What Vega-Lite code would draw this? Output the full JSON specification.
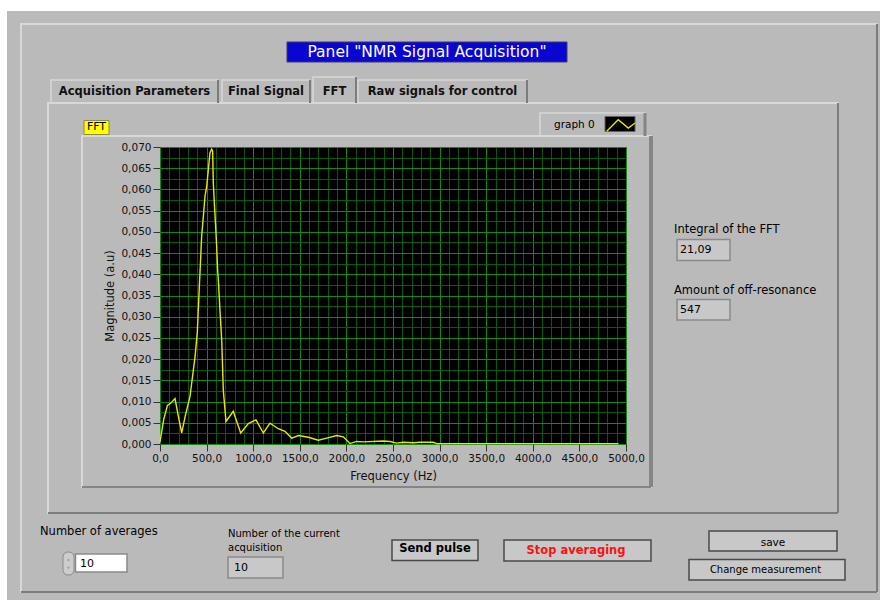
{
  "$schema": "https://vega.github.io/schema/vega-lite/v6.json",
  "width": 466,
  "height": 297,
  "autosize": {"type": "none"},
  "padding": {"left": 160, "top": 147, "right": 254, "bottom": 156},
  "background": "#bababa",
  "view": {"fill": "#000000", "stroke": "#4a4a4a"},
  "config": {"font": "DejaVu Sans", "text": {"baseline": "middle", "align": "left", "color": "#000000", "fontSize": 11.5}},
  "resolve": {"axis": {"x": "independent", "y": "independent"}},
  "layer": [
    {"data": {"values": [{"item": "top margin"}]}, "mark": {"type": "rect", "fill": "#ffffff"},
     "encoding": {"x": {"datum": -2000, "axis": null}, "x2": {"datum": 8000}, "y": {"datum": 0.106, "axis": null}, "y2": {"datum": 0.102054}}},
    {"data": {"values": [{"item": "left margin"}]}, "mark": {"type": "rect", "fill": "#ffffff"},
     "encoding": {"x": {"datum": -2000, "axis": null}, "x2": {"datum": -1641.6}, "y": {"datum": 0.106, "axis": null}, "y2": {"datum": -0.04}}},

    {"data": {"values": [{"item": "outer frame"}]}, "mark": {"type": "rect", "filled": false, "stroke": "#d8d8d8", "strokeWidth": 2},
     "encoding": {"x": {"datum": -1491.4, "axis": null}, "x2": {"datum": 7693.1}, "y": {"datum": 0.09899, "axis": null}, "y2": {"datum": -0.034882}}},
    {"data": {"values": [{"item": "outer frame right"}]}, "mark": {"type": "rule", "stroke": "#7c7c7c", "strokeWidth": 2},
     "encoding": {"x": {"datum": 7693.1, "axis": null}, "y": {"datum": 0.09899, "axis": null}, "y2": {"datum": -0.034882}}},
    {"data": {"values": [{"item": "outer frame bottom"}]}, "mark": {"type": "rule", "stroke": "#7c7c7c", "strokeWidth": 2},
     "encoding": {"x": {"datum": -1491.4, "axis": null}, "x2": {"datum": 7693.1}, "y": {"datum": -0.034882, "axis": null}}},

    {"data": {"values": [{"item": "tab panel"}]}, "mark": {"type": "rect", "filled": false, "stroke": "#d8d8d8", "strokeWidth": 2},
     "encoding": {"x": {"datum": -1201.7, "axis": null}, "x2": {"datum": 7274.7}, "y": {"datum": 0.08037, "axis": null}, "y2": {"datum": -0.016263}}},
    {"data": {"values": [{"item": "tab panel right"}]}, "mark": {"type": "rule", "stroke": "#7c7c7c", "strokeWidth": 2},
     "encoding": {"x": {"datum": 7274.7, "axis": null}, "y": {"datum": 0.08037, "axis": null}, "y2": {"datum": -0.016263}}},
    {"data": {"values": [{"item": "tab panel bottom"}]}, "mark": {"type": "rule", "stroke": "#7c7c7c", "strokeWidth": 2},
     "encoding": {"x": {"datum": -1201.7, "axis": null}, "x2": {"datum": 7274.7}, "y": {"datum": -0.016263, "axis": null}}},

    {"data": {"values": [{"item": "tab 1"}]}, "mark": {"type": "rect", "filled": false, "stroke": "#d8d8d8", "strokeWidth": 1.5},
     "encoding": {"x": {"datum": -1169.5, "axis": null}, "x2": {"datum": 622.3}, "y": {"datum": 0.085791, "axis": null}, "y2": {"datum": 0.08037}}},
    {"data": {"values": [{"item": "tab 1 edge"}]}, "mark": {"type": "rule", "stroke": "#7c7c7c", "strokeWidth": 2},
     "encoding": {"x": {"datum": 622.3, "axis": null}, "y": {"datum": 0.085791, "axis": null}, "y2": {"datum": 0.08037}}},
    {"data": {"values": [{"item": "tab 2"}]}, "mark": {"type": "rect", "filled": false, "stroke": "#d8d8d8", "strokeWidth": 1.5},
     "encoding": {"x": {"datum": 665.2, "axis": null}, "x2": {"datum": 1609.4}, "y": {"datum": 0.085791, "axis": null}, "y2": {"datum": 0.08037}}},
    {"data": {"values": [{"item": "tab 2 edge"}]}, "mark": {"type": "rule", "stroke": "#7c7c7c", "strokeWidth": 2},
     "encoding": {"x": {"datum": 1609.4, "axis": null}, "y": {"datum": 0.085791, "axis": null}, "y2": {"datum": 0.08037}}},
    {"data": {"values": [{"item": "tab 3"}]}, "mark": {"type": "rect", "filled": false, "stroke": "#d8d8d8", "strokeWidth": 1.5},
     "encoding": {"x": {"datum": 1641.6, "axis": null}, "x2": {"datum": 2103.0}, "y": {"datum": 0.086498, "axis": null}, "y2": {"datum": 0.08037}}},
    {"data": {"values": [{"item": "tab 3 edge"}]}, "mark": {"type": "rule", "stroke": "#7c7c7c", "strokeWidth": 2},
     "encoding": {"x": {"datum": 2103.0, "axis": null}, "y": {"datum": 0.086498, "axis": null}, "y2": {"datum": 0.08037}}},
    {"data": {"values": [{"item": "tab 4"}]}, "mark": {"type": "rect", "filled": false, "stroke": "#d8d8d8", "strokeWidth": 1.5},
     "encoding": {"x": {"datum": 2124.5, "axis": null}, "x2": {"datum": 3937.8}, "y": {"datum": 0.085791, "axis": null}, "y2": {"datum": 0.08037}}},
    {"data": {"values": [{"item": "tab 4 edge"}]}, "mark": {"type": "rule", "stroke": "#7c7c7c", "strokeWidth": 2},
     "encoding": {"x": {"datum": 3937.8, "axis": null}, "y": {"datum": 0.085791, "axis": null}, "y2": {"datum": 0.08037}}},

    {"data": {"values": [{"label": "Acquisition Parameters"}]}, "mark": {"type": "text", "align": "center", "fontWeight": "bold", "fontSize": 11.5, "color": "#111111"},
     "encoding": {"x": {"datum": -273.6, "axis": null}, "y": {"datum": 0.082963, "axis": null}, "text": {"field": "label"}}},
    {"data": {"values": [{"label": "Final Signal"}]}, "mark": {"type": "text", "align": "center", "fontWeight": "bold", "fontSize": 11.5, "color": "#111111"},
     "encoding": {"x": {"datum": 1137.3, "axis": null}, "y": {"datum": 0.082963, "axis": null}, "text": {"field": "label"}}},
    {"data": {"values": [{"label": "FFT"}]}, "mark": {"type": "text", "align": "center", "fontWeight": "bold", "fontSize": 11.5, "color": "#111111"},
     "encoding": {"x": {"datum": 1872.3, "axis": null}, "y": {"datum": 0.082963, "axis": null}, "text": {"field": "label"}}},
    {"data": {"values": [{"label": "Raw signals for control"}]}, "mark": {"type": "text", "align": "center", "fontWeight": "bold", "fontSize": 11.5, "color": "#111111"},
     "encoding": {"x": {"datum": 3031.1, "axis": null}, "y": {"datum": 0.082963, "axis": null}, "text": {"field": "label"}}},

    {"data": {"values": [{"item": "title box"}]}, "mark": {"type": "rect", "fill": "#0a06d2", "stroke": "#3a3a6a", "strokeWidth": 1},
     "encoding": {"x": {"datum": 1362.7, "axis": null}, "x2": {"datum": 4366.9}, "y": {"datum": 0.094747, "axis": null}, "y2": {"datum": 0.090034}}},
    {"data": {"values": [{"label": "Panel \"NMR Signal Acquisition\""}]}, "mark": {"type": "text", "align": "center", "fontSize": 15.5, "color": "#ffffff"},
     "encoding": {"x": {"datum": 2864.8, "axis": null}, "y": {"datum": 0.092273, "axis": null}, "text": {"field": "label"}}},

    {"data": {"values": [{"item": "graph label box"}]}, "mark": {"type": "rect", "fill": "#ffff00", "stroke": "#8c8c40", "strokeWidth": 1},
     "encoding": {"x": {"datum": -815.4, "axis": null}, "x2": {"datum": -547.2}, "y": {"datum": 0.076246, "axis": null}, "y2": {"datum": 0.072946}}},
    {"data": {"values": [{"label": "FFT"}]}, "mark": {"type": "text", "align": "center", "fontSize": 11, "color": "#000000"},
     "encoding": {"x": {"datum": -681.3, "axis": null}, "y": {"datum": 0.074596, "axis": null}, "text": {"field": "label"}}},

    {"data": {"values": [{"item": "graph frame"}]}, "mark": {"type": "rect", "filled": false, "stroke": "#d8d8d8", "strokeWidth": 2},
     "encoding": {
       "x": {"datum": -836.9, "axis": {"orient": "bottom", "title": null, "labels": false, "ticks": false, "domain": false, "grid": true, "gridColor": "#0b5a0b", "gridWidth": 1, "gridOpacity": 1,
              "values": [100,200,300,400,600,700,800,900,1100,1200,1300,1400,1600,1700,1800,1900,2100,2200,2300,2400,2600,2700,2800,2900,3100,3200,3300,3400,3600,3700,3800,3900,4100,4200,4300,4400,4600,4700,4800,4900]}},
       "x2": {"datum": 5268.2},
       "y": {"datum": 0.072593, "axis": {"orient": "left", "title": null, "labels": false, "ticks": false, "domain": false, "grid": true, "gridColor": "#0b5a0b", "gridWidth": 1, "gridOpacity": 1,
              "values": [0.0025,0.0075,0.0125,0.0175,0.0225,0.0275,0.0325,0.0375,0.0425,0.0475,0.0525,0.0575,0.0625,0.0675]}},
       "y2": {"datum": -0.010135}}},
    {"data": {"values": [{"item": "graph frame right"}]}, "mark": {"type": "rule", "stroke": "#858585", "strokeWidth": 4},
     "encoding": {"x": {"datum": 5268.2, "axis": null}, "y": {"datum": 0.072593, "axis": null}, "y2": {"datum": -0.010135}}},
    {"data": {"values": [{"item": "graph frame bottom"}]}, "mark": {"type": "rule", "stroke": "#858585", "strokeWidth": 2},
     "encoding": {"x": {"datum": -836.9, "axis": null}, "x2": {"datum": 5268.2}, "y": {"datum": -0.010135, "axis": null}}},

    {"data": {"values": [{"item": "legend frame"}]}, "mark": {"type": "rect", "filled": false, "stroke": "#d8d8d8", "strokeWidth": 1.5},
     "encoding": {"x": {"datum": 4077.2, "axis": null}, "x2": {"datum": 5203.9}, "y": {"datum": 0.078013, "axis": null}, "y2": {"datum": 0.072593}}},
    {"data": {"values": [{"item": "legend frame right"}]}, "mark": {"type": "rule", "stroke": "#858585", "strokeWidth": 3},
     "encoding": {"x": {"datum": 5203.9, "axis": null}, "y": {"datum": 0.078013, "axis": null}, "y2": {"datum": 0.072593}}},
    {"data": {"values": [{"label": "graph 0"}]}, "mark": {"type": "text", "align": "left", "fontSize": 10.5, "color": "#000000"},
     "encoding": {"x": {"datum": 4227.5, "axis": null}, "y": {"datum": 0.075256, "axis": null}, "text": {"field": "label"}}},
    {"data": {"values": [{"item": "legend swatch"}]}, "mark": {"type": "rect", "fill": "#000000", "stroke": "#606060", "strokeWidth": 1},
     "encoding": {"x": {"datum": 4774.7, "axis": null}, "x2": {"datum": 5096.6}, "y": {"datum": 0.077188, "axis": null}, "y2": {"datum": 0.073653}}},
    {"data": {"values": [{"item": "legend line"}]}, "mark": {"type": "point", "shape": "M-0.99,0.41L-0.18,-0.41L0.53,0.18L1,-0.18", "filled": false, "stroke": "#e8e800", "strokeWidth": 1.3, "size": 806, "opacity": 1},
     "encoding": {"x": {"datum": 4944.2, "axis": null}, "y": {"datum": 0.075067, "axis": null}}},

    {"data": {"values": [
       {"f": 0, "m": 0.0005}, {"f": 40, "m": 0.0058}, {"f": 80, "m": 0.0091}, {"f": 120, "m": 0.0097}, {"f": 161, "m": 0.0107},
       {"f": 197, "m": 0.0065}, {"f": 233, "m": 0.0026}, {"f": 270, "m": 0.0065}, {"f": 322, "m": 0.0112}, {"f": 376, "m": 0.0206},
       {"f": 400, "m": 0.0262}, {"f": 422, "m": 0.037}, {"f": 447, "m": 0.049}, {"f": 465, "m": 0.0536}, {"f": 483, "m": 0.0585},
       {"f": 501, "m": 0.0607}, {"f": 518, "m": 0.0645}, {"f": 536, "m": 0.0686}, {"f": 554, "m": 0.0695}, {"f": 565, "m": 0.069},
       {"f": 572, "m": 0.0615}, {"f": 583, "m": 0.0568}, {"f": 597, "m": 0.0513}, {"f": 608, "m": 0.0466}, {"f": 618, "m": 0.041},
       {"f": 626, "m": 0.0387}, {"f": 644, "m": 0.0313}, {"f": 662, "m": 0.0246}, {"f": 679, "m": 0.0128}, {"f": 708, "m": 0.0053},
       {"f": 786, "m": 0.0077}, {"f": 866, "m": 0.0026}, {"f": 948, "m": 0.0048}, {"f": 1030, "m": 0.0057}, {"f": 1109, "m": 0.0026},
       {"f": 1180, "m": 0.0049}, {"f": 1270, "m": 0.0036}, {"f": 1341, "m": 0.003}, {"f": 1413, "m": 0.0014}, {"f": 1485, "m": 0.002},
       {"f": 1592, "m": 0.0016}, {"f": 1699, "m": 0.0009}, {"f": 1789, "m": 0.0014}, {"f": 1896, "m": 0.002}, {"f": 1967, "m": 0.0017},
       {"f": 2039, "m": 0.0001}, {"f": 2110, "m": 0.0006}, {"f": 2182, "m": 0.0005}, {"f": 2396, "m": 0.0007}, {"f": 2468, "m": 0.0006},
       {"f": 2540, "m": 0.0002}, {"f": 2611, "m": 0.0004}, {"f": 2718, "m": 0.0003}, {"f": 2790, "m": 0.0004}, {"f": 2933, "m": 0.0004},
       {"f": 2969, "m": 0.0001}, {"f": 3200, "m": 0.0001}, {"f": 3500, "m": 0.0001}, {"f": 4000, "m": 0.0001}, {"f": 4500, "m": 0.0001},
       {"f": 4920, "m": 0.0001}
     ]},
     "mark": {"type": "line", "color": "#e8e800", "strokeWidth": 1.4},
     "encoding": {
       "x": {"field": "f", "type": "quantitative",
             "scale": {"domain": [0, 5000], "nice": false, "zero": false},
             "axis": {"orient": "bottom", "title": "Frequency (Hz)", "values": [0,500,1000,1500,2000,2500,3000,3500,4000,4500,5000],
                      "labelExpr": "replace(format(datum.value, '.1f'), '.', ',')", "labelFontSize": 10.5, "labelColor": "#111111", "labelPadding": 2,
                      "labelFlush": false, "labelOverlap": false,
                      "tickSize": 7, "tickColor": "#333333", "domain": false, "grid": true, "gridColor": "#118a11", "gridWidth": 1, "gridOpacity": 1,
                      "titleFontSize": 11.5, "titleFontWeight": "normal", "titleColor": "#111111", "titlePadding": 7}},
       "y": {"field": "m", "type": "quantitative",
             "scale": {"domain": [0, 0.07], "nice": false, "zero": false},
             "axis": {"orient": "left", "title": "Magnitude (a.u)", "values": [0,0.005,0.01,0.015,0.02,0.025,0.03,0.035,0.04,0.045,0.05,0.055,0.06,0.065,0.07],
                      "labelExpr": "replace(format(datum.value, '.3f'), '.', ',')", "labelFontSize": 10.5, "labelColor": "#111111", "labelPadding": 2,
                      "labelFlush": false, "labelOverlap": false,
                      "tickSize": 7, "tickColor": "#333333", "domain": false, "grid": true, "gridColor": "#118a11", "gridWidth": 1, "gridOpacity": 1,
                      "titleFontSize": 11.5, "titleFontWeight": "normal", "titleColor": "#111111", "titlePadding": 5}}
     }},

    {"data": {"values": [{"label": "Integral of the FFT"}]}, "mark": {"type": "text", "fontSize": 11.5},
     "encoding": {"x": {"datum": 5515.0, "axis": null}, "y": {"datum": 0.050438, "axis": null}, "text": {"field": "label"}}},
    {"data": {"values": [{"item": "integral box"}]}, "mark": {"type": "rect", "fill": "#c8c8c8", "stroke": "#8a8a8a", "strokeWidth": 1.5},
     "encoding": {"x": {"datum": 5547.2, "axis": null}, "x2": {"datum": 6115.9}, "y": {"datum": 0.048199, "axis": null}, "y2": {"datum": 0.043249}}},
    {"data": {"values": [{"value": "21,09"}]}, "mark": {"type": "text", "fontSize": 11},
     "encoding": {"x": {"datum": 5579.4, "axis": null}, "y": {"datum": 0.045724, "axis": null}, "text": {"field": "value"}}},
    {"data": {"values": [{"label": "Amount of off-resonance"}]}, "mark": {"type": "text", "fontSize": 11.5},
     "encoding": {"x": {"datum": 5515.0, "axis": null}, "y": {"datum": 0.036131, "axis": null}, "text": {"field": "label"}}},
    {"data": {"values": [{"item": "off-resonance box"}]}, "mark": {"type": "rect", "fill": "#c8c8c8", "stroke": "#8a8a8a", "strokeWidth": 1.5},
     "encoding": {"x": {"datum": 5547.2, "axis": null}, "x2": {"datum": 6115.9}, "y": {"datum": 0.034057, "axis": null}, "y2": {"datum": 0.029226}}},
    {"data": {"values": [{"value": "547"}]}, "mark": {"type": "text", "fontSize": 11},
     "encoding": {"x": {"datum": 5579.4, "axis": null}, "y": {"datum": 0.031582, "axis": null}, "text": {"field": "value"}}},

    {"data": {"values": [{"label": "Number of averages"}]}, "mark": {"type": "text", "fontSize": 11.5},
     "encoding": {"x": {"datum": -1287.6, "axis": null}, "y": {"datum": -0.020741, "axis": null}, "text": {"field": "label"}}},
    {"data": {"values": [{"item": "spinner"}]}, "mark": {"type": "rect", "fill": "#cdcdcd", "stroke": "#8a8a8a", "strokeWidth": 1, "cornerRadius": 5},
     "encoding": {"x": {"datum": -1040.8, "axis": null}, "x2": {"datum": -922.7}, "y": {"datum": -0.025455, "axis": null}, "y2": {"datum": -0.030875}}},
    {"data": {"values": [{"item": "spinner up"}]}, "mark": {"type": "point", "shape": "triangle-up", "filled": true, "color": "#8a8a8a", "size": 10},
     "encoding": {"x": {"datum": -981.7, "axis": null}, "y": {"datum": -0.027222, "axis": null}}},
    {"data": {"values": [{"item": "spinner down"}]}, "mark": {"type": "point", "shape": "triangle-down", "filled": true, "color": "#8a8a8a", "size": 10},
     "encoding": {"x": {"datum": -981.7, "axis": null}, "y": {"datum": -0.029226, "axis": null}}},
    {"data": {"values": [{"item": "averages input"}]}, "mark": {"type": "rect", "fill": "#ffffff", "stroke": "#8a8a8a", "strokeWidth": 1.5},
     "encoding": {"x": {"datum": -906.7, "axis": null}, "x2": {"datum": -354.1}, "y": {"datum": -0.025926, "axis": null}, "y2": {"datum": -0.030168}}},
    {"data": {"values": [{"value": "10"}]}, "mark": {"type": "text", "fontSize": 11},
     "encoding": {"x": {"datum": -858.4, "axis": null}, "y": {"datum": -0.028165, "axis": null}, "text": {"field": "value"}}},
    {"data": {"values": [{"label": "Number of the current"}]}, "mark": {"type": "text", "fontSize": 10},
     "encoding": {"x": {"datum": 729.6, "axis": null}, "y": {"datum": -0.021212, "axis": null}, "text": {"field": "label"}}},
    {"data": {"values": [{"label": "acquisition"}]}, "mark": {"type": "text", "fontSize": 10},
     "encoding": {"x": {"datum": 729.6, "axis": null}, "y": {"datum": -0.024441, "axis": null}, "text": {"field": "label"}}},
    {"data": {"values": [{"item": "acquisition box"}]}, "mark": {"type": "rect", "fill": "#c8c8c8", "stroke": "#8a8a8a", "strokeWidth": 1.5},
     "encoding": {"x": {"datum": 729.6, "axis": null}, "x2": {"datum": 1319.7}, "y": {"datum": -0.026633, "axis": null}, "y2": {"datum": -0.031582}}},
    {"data": {"values": [{"value": "10"}]}, "mark": {"type": "text", "fontSize": 11},
     "encoding": {"x": {"datum": 794.0, "axis": null}, "y": {"datum": -0.029226, "axis": null}, "text": {"field": "value"}}},

    {"data": {"values": [{"item": "send pulse button"}]}, "mark": {"type": "rect", "fill": "#c8c8c8", "stroke": "#4a4a4a", "strokeWidth": 1.5},
     "encoding": {"x": {"datum": 2489.3, "axis": null}, "x2": {"datum": 3412.0}, "y": {"datum": -0.022626, "axis": null}, "y2": {"datum": -0.027458}}},
    {"data": {"values": [{"label": "Send pulse"}]}, "mark": {"type": "text", "align": "center", "fontWeight": "bold", "fontSize": 11.5},
     "encoding": {"x": {"datum": 2950.6, "axis": null}, "y": {"datum": -0.024865, "axis": null}, "text": {"field": "label"}}},
    {"data": {"values": [{"item": "stop button"}]}, "mark": {"type": "rect", "fill": "#c8c8c8", "stroke": "#4a4a4a", "strokeWidth": 1.5},
     "encoding": {"x": {"datum": 3691.0, "axis": null}, "x2": {"datum": 5268.2}, "y": {"datum": -0.022626, "axis": null}, "y2": {"datum": -0.027576}}},
    {"data": {"values": [{"label": "Stop averaging"}]}, "mark": {"type": "text", "align": "center", "fontWeight": "bold", "fontSize": 11.5, "color": "#ff1010"},
     "encoding": {"x": {"datum": 4463.5, "axis": null}, "y": {"datum": -0.025219, "axis": null}, "text": {"field": "label"}}},
    {"data": {"values": [{"item": "save button"}]}, "mark": {"type": "rect", "fill": "#c8c8c8", "stroke": "#4a4a4a", "strokeWidth": 1.5},
     "encoding": {"x": {"datum": 5890.5, "axis": null}, "x2": {"datum": 7263.9}, "y": {"datum": -0.020505, "axis": null}, "y2": {"datum": -0.025219}}},
    {"data": {"values": [{"label": "save"}]}, "mark": {"type": "text", "align": "center", "fontSize": 10.5},
     "encoding": {"x": {"datum": 6577.2, "axis": null}, "y": {"datum": -0.023404, "axis": null}, "text": {"field": "label"}}},
    {"data": {"values": [{"item": "change button"}]}, "mark": {"type": "rect", "fill": "#c8c8c8", "stroke": "#4a4a4a", "strokeWidth": 1.5},
     "encoding": {"x": {"datum": 5675.9, "axis": null}, "x2": {"datum": 7349.8}, "y": {"datum": -0.027222, "axis": null}, "y2": {"datum": -0.032054}}},
    {"data": {"values": [{"label": "Change measurement"}]}, "mark": {"type": "text", "align": "center", "fontSize": 10},
     "encoding": {"x": {"datum": 6496.8, "axis": null}, "y": {"datum": -0.029697, "axis": null}, "text": {"field": "label"}}}
  ]
}
